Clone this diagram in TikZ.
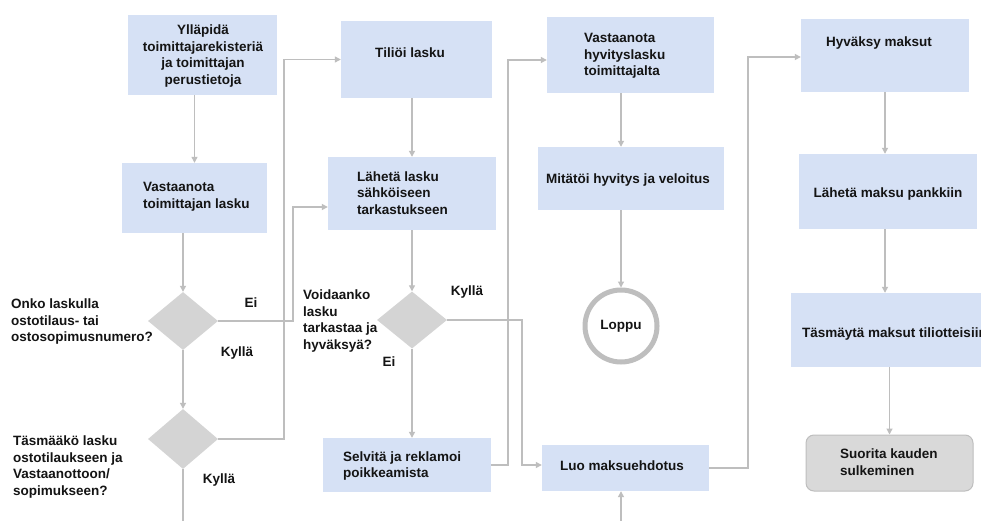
\documentclass[tikz,border=0pt]{standalone}
\usepackage{fontspec}
\setmainfont{Liberation Sans}
\usetikzlibrary{arrows.meta,shapes.geometric,fit}

\definecolor{boxblue}{RGB}{214,225,245}
\definecolor{decgray}{RGB}{212,212,212}
\definecolor{linegray}{RGB}{190,190,190}
\definecolor{endgray}{RGB}{217,217,217}
\definecolor{endedge}{RGB}{190,190,190}
\definecolor{ink}{RGB}{20,20,20}

\tikzset{
  stepbox/.style={fill=boxblue, draw=none, inner sep=0pt},
  endbox/.style={fill=endgray, draw=endedge, line width=1pt, rounded corners=8pt, inner sep=0pt},
  decision/.style={diamond, fill=decgray, draw=none, inner sep=0pt, minimum width=70pt, minimum height=58pt},
  txt/.style={font=\fontsize{13.5}{16.5}\selectfont\bfseries, text=ink, inner sep=0pt},
  ltxt/.style={txt, align=left, anchor=west},
  ctxt/.style={txt, align=center},
  stopring/.style={circle, draw=linegray, line width=5pt, fill=white, minimum size=72pt, inner sep=0pt},
  flow/.style={draw=linegray, line width=1.2pt, -{Triangle[length=6pt,width=6pt]}},
  flowplain/.style={draw=linegray, line width=1.2pt},
}

\begin{document}
\begin{tikzpicture}[x=1pt,y=-1pt]
\useasboundingbox (0,0) rectangle (981,521);
\fill[white] (0,0) rectangle (981,521);

% ---- column 1: supplier data and incoming invoice
\node[stepbox, fit={(128,15) (277,95)}] (b1) {};
\node[ctxt] (b1t) at (203,56) {Ylläpidä\\toimittajarekisteriä\\ja toimittajan\\perustietoja};

\node[stepbox, fit={(122,163) (267,233)}] (b2) {};
\node[ltxt] (b2t) at (143,197) {Vastaanota\\toimittajan lasku};

\node[decision] (d1) at (183,321) {};
\node[ltxt] (d1t) at (11,322) {Onko laskulla\\ostotilaus- tai\\ostosopimusnumero?};
\node[ctxt] (d1ei) at (251,303) {Ei};
\node[ctxt] (d1ky) at (237,353) {Kyllä};

\node[decision, minimum height=60pt] (d2) at (183,439) {};
\node[ltxt] (d2t) at (13,467) {Täsmääkö lasku\\ostotilaukseen ja\\Vastaanottoon/\\sopimukseen?};
\node[ctxt] (d2ky) at (219,480) {Kyllä};

% ---- column 2: posting and review
\node[stepbox, fit={(341,21) (492,98)}] (tili) {};
\node[ctxt] (tilit) at (410,53) {Tiliöi lasku};

\node[stepbox, fit={(328,157) (496,230)}] (lah) {};
\node[ltxt] (laht) at (357,193) {Lähetä lasku\\sähköiseen\\tarkastukseen};

\node[decision, minimum height=57pt] (d3) at (412,320) {};
\node[ltxt] (d3t) at (303,321) {Voidaanko\\lasku\\tarkastaa ja\\hyväksyä?};
\node[ctxt] (d3ky) at (467,292) {Kyllä};
\node[ctxt] (d3ei) at (389,362) {Ei};

\node[stepbox, fit={(323,438) (491,492)}] (selv) {};
\node[ltxt] (selvt) at (343,466) {Selvitä ja reklamoi\\poikkeamista};

% ---- column 3: credit notes and payment proposal
\node[stepbox, fit={(547,17) (714,93)}] (vast) {};
\node[ltxt] (vastt) at (584,56) {Vastaanota\\hyvityslasku\\toimittajalta};

\node[stepbox, fit={(538,147) (724,210)}] (mita) {};
\node[ctxt] (mitat) at (628,180) {Mitätöi hyvitys ja veloitus};

\node[stopring] (lop) at (621,326) {};
\node[ctxt] (lopt) at (621,326) {Loppu};

\node[stepbox, fit={(542,445) (709,491)}] (luo) {};
\node[ctxt] (luot) at (622,466) {Luo maksuehdotus};

% ---- column 4: payments and period close
\node[stepbox, fit={(801,19) (969,92)}] (hyv) {};
\node[ctxt] (hyvt) at (879,43) {Hyväksy maksut};

\node[stepbox, fit={(799,154) (977,229)}] (pank) {};
\node[ctxt] (pankt) at (888,194) {Lähetä maksu pankkiin};

\node[stepbox, fit={(791,293) (1010,367)}] (tasm) {};
\node[ltxt] (tasmt) at (802,334) {Täsmäytä maksut tiliotteisiin};

\node[endbox, fit={(806,435) (973,491)}] (suor) {};
\node[ltxt] (suort) at (840,462) {Suorita kauden\\sulkeminen};

% ---- bend points and loose ends of connectors
\coordinate (eiBend) at (293,207);
\coordinate (okBend) at (284,300);
\coordinate (selvBend) at (508,60);
\coordinate (kyBend) at (522,465);
\coordinate (luoBend) at (748,57);
\coordinate (d2end) at (182,530);
\coordinate (luoIn) at (621,530);

% ---- connectors
\draw[flow] (b1.south -| b2.north) -- (b2.north);
\draw[flow] (b2.south -| d1.north) -- (d1.north);
\draw[flow] (d1.south) -- (d2.north);
\draw[flow] (d1.east) -| (eiBend) -- (eiBend -| lah.west);
\draw[flow] (d2.east) -| (okBend) |- (tili.west);
\draw[flowplain] (d2.south) -- (d2.south |- d2end);

\draw[flow] (tili.south -| lah.north) -- (lah.north);
\draw[flow] (lah.south -| d3.north) -- (d3.north);
\draw[flow] (d3.south) -- (d3.south |- selv.north);
\draw[flow] (selv.east) -| (selvBend) -- (selvBend -| vast.west);
\draw[flow] (d3.east) -| (kyBend) -- (kyBend -| luo.west);

\draw[flow] (vast.south -| lop.north) -- (mita.north -| lop.north);
\draw[flow] (mita.south -| lop.north) -- (lop.north);
\draw[flow] (luoIn) -- (luoIn |- luo.south);
\draw[flow] (luo.east) -| (luoBend) -- (luoBend -| hyv.west);

\draw[flow] (hyv.south) -- (hyv.south |- pank.north);
\draw[flow] (hyv.south |- pank.south) -- (hyv.south |- tasm.north);
\draw[flow] (suor.north |- tasm.south) -- (suor.north);
\end{tikzpicture}
\end{document}
